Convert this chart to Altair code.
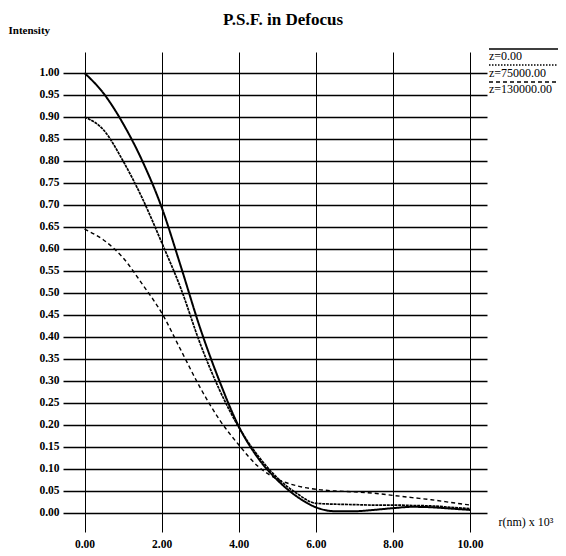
import altair as alt
import pandas as pd

# radius r (nm x 10^3)
r_vals = [0.0, 0.5, 1.0, 1.5, 2.0, 2.5, 3.0, 3.5, 4.0, 4.5, 5.0,
          5.5, 6.0, 6.5, 7.0, 7.5, 8.0, 8.5, 9.0, 9.5, 10.0]
series_names = ["z=0.00", "z=75000.00", "z=130000.00"]
z0 = [1.00, 0.953, 0.885, 0.80, 0.695, 0.56, 0.42, 0.30, 0.197, 0.125, 0.075,
      0.038, 0.013, 0.004, 0.004, 0.007, 0.011, 0.014, 0.013, 0.010, 0.007]
z75 = [0.90, 0.87, 0.80, 0.715, 0.615, 0.51, 0.385, 0.28, 0.195, 0.13, 0.08,
       0.045, 0.022, 0.020, 0.019, 0.018, 0.018, 0.017, 0.016, 0.013, 0.010]
z130 = [0.645, 0.62, 0.58, 0.52, 0.455, 0.37, 0.285, 0.212, 0.155, 0.106, 0.077,
        0.062, 0.054, 0.050, 0.048, 0.045, 0.040, 0.035, 0.030, 0.024, 0.018]
x_ticks = [0, 2, 4, 6, 8, 10]
y_ticks = [round(i * 0.05, 2) for i in range(21)]

rows = []
for name, vals in zip(series_names, [z0, z75, z130]):
    for r, v in zip(r_vals, vals):
        rows.append({"r": r, "I": v, "z": name})
df = pd.DataFrame(rows)

FONT = "Liberation Serif"

x_scale = alt.Scale(domain=[-0.558, 10.44], nice=False, zero=False)
y_scale = alt.Scale(domain=[-0.0432, 1.0477], nice=False, zero=False)

lines = alt.Chart(df).mark_line(color="black", interpolate="monotone").encode(
    x=alt.X("r:Q", scale=x_scale,
            axis=alt.Axis(values=x_ticks, format=".2f", title="r(nm) x 10³",
                          grid=True, gridColor="black", gridWidth=1, gridOpacity=1,
                          domain=False, ticks=False, labelPadding=6,
                          labelFont=FONT, labelFontSize=11.5, labelFontWeight="bold",
                          labelColor="black",
                          titleFont=FONT, titleFontSize=12, titleFontWeight="normal",
                          titleColor="black", titleX=435, titleY=-11,
                          titleAlign="left", titleBaseline="middle")),
    y=alt.Y("I:Q", scale=y_scale,
            axis=alt.Axis(values=y_ticks, format=".2f", title="Intensity",
                          grid=True, gridColor="black", gridWidth=1.3, gridOpacity=1,
                          domain=False, ticks=False, labelPadding=4,
                          labelFont=FONT, labelFontSize=11.5, labelFontWeight="bold",
                          labelColor="black",
                          titleFont=FONT, titleFontSize=11, titleFontWeight="bold",
                          titleColor="black", titleAngle=0, titleX=-55, titleY=-22,
                          titleAlign="left", titleBaseline="middle")),
    strokeDash=alt.StrokeDash("z:N", scale=alt.Scale(domain=series_names,
                              range=[[1, 0], [3, 0.8], [4, 3]]), legend=None),
    strokeWidth=alt.StrokeWidth("z:N", scale=alt.Scale(domain=series_names,
                                range=[2.0, 1.4, 1.8]), legend=None),
    detail="z:N",
)

# custom legend at the upper right (line above each label)
legend_layers = []
dashes = [[1, 0], [1.5, 1.5], [4, 3]]
line_y = [-3, 13, 30]
text_y = [4, 21, 37]
for name, dash, ly, ty in zip(series_names, dashes, line_y, text_y):
    ldf = pd.DataFrame({"label": [name]})
    rule = alt.Chart(ldf).mark_rule(color="black", strokeWidth=1.4, strokeDash=dash).encode(
        x=alt.value(426), x2=alt.value(510), y=alt.value(ly))
    txt = alt.Chart(ldf).mark_text(align="left", baseline="middle", font=FONT,
                                   fontSize=12, color="black").encode(
        x=alt.value(426), y=alt.value(ty), text="label:N")
    legend_layers += [rule, txt]

chart = alt.layer(lines, *legend_layers).properties(
    width=424, height=480,
    autosize=alt.AutoSizeParams(type="none"),
    padding={"left": 55, "top": 44, "right": 71, "bottom": 16},
    title=alt.TitleParams("P.S.F. in Defocus", font=FONT, fontSize=17,
                          fontWeight="bold", color="black", anchor="middle",
                          frame="group", offset=6, dx=8, dy=11),
).configure_view(stroke=None)

chart.save("out.html", embed_options={"renderer": "svg", "actions": False})
